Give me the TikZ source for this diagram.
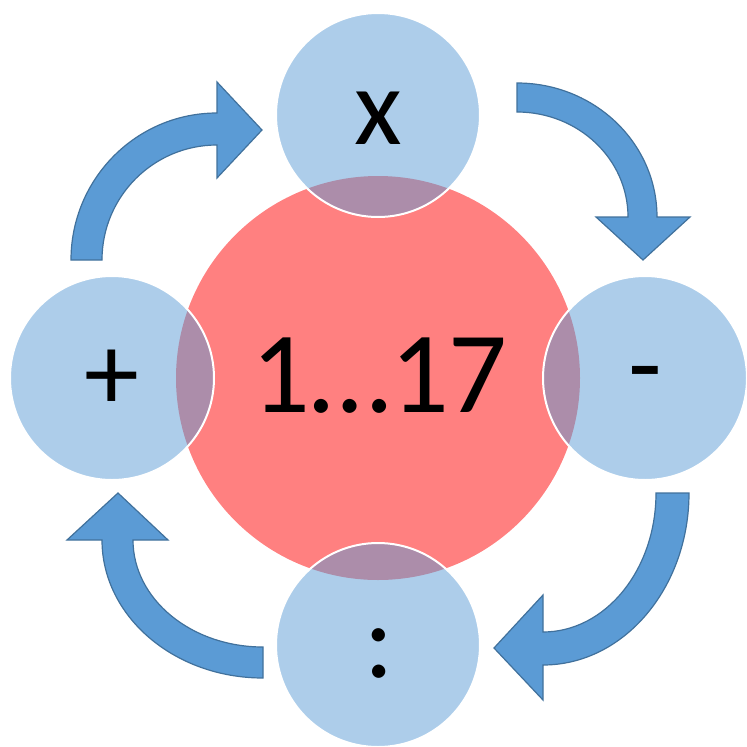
\documentclass[tikz,border=0pt]{standalone}
\usepackage{fontspec}
\setmainfont{Carlito}
\definecolor{redfill}{HTML}{FF8080}
\definecolor{bluefill}{HTML}{5B9BD5}
\definecolor{arrowfill}{HTML}{5B9BD5}
\definecolor{arrowline}{HTML}{41719C}
\begin{document}
\begin{tikzpicture}[x=1pt,y=-1pt,
  bigcirc/.style={circle,fill=redfill,minimum size=404pt,inner sep=0pt},
  smallcirc/.style={circle,fill=bluefill,fill opacity=0.5,draw=white,line width=2pt,minimum size=204pt,inner sep=0pt},
  lbl/.style={inner sep=0pt,font=\fontsize{110}{130}\selectfont},
  biglbl/.style={inner sep=0pt,font=\fontsize{116}{136}\selectfont},
  bentarrow/.style={fill=arrowfill,draw=arrowline,line width=1.2pt,line join=miter}]
\useasboundingbox (0,0) rectangle (747,747);
\node[bigcirc] (centre) at (378,378) {};
\node[smallcirc] (top) at (378,115) {};
\node[smallcirc] (left) at (112,378) {};
\node[smallcirc] (right) at (645,378) {};
\node[smallcirc] (bottom) at (378,645) {};
% top-left arrow
\draw[bentarrow] (71,260) arc[start angle=180,end angle=270,x radius=146,y radius=147]
  -- (217,82) -- (262,130) -- (217,178) -- (217,145)
  arc[start angle=270,end angle=180,radius=115] -- cycle;
% top-right arrow
\draw[bentarrow] (517,83) arc[start angle=270,end angle=360,x radius=140,y radius=134]
  -- (690,217) -- (643,260) -- (596,217) -- (628,217)
  arc[start angle=360,end angle=270,x radius=111,y radius=105] -- cycle;
% bottom-right arrow
\draw[bentarrow] (689,493) arc[start angle=0,end angle=90,x radius=146,y radius=172]
  -- (543,700) -- (494,648) -- (543,595) -- (543,632)
  arc[start angle=90,end angle=0,x radius=113,y radius=139] -- cycle;
% bottom-left arrow
\draw[bentarrow] (263,678) arc[start angle=90,end angle=180,x radius=161,y radius=138]
  -- (67,540) -- (118,493) -- (168,540) -- (133,540)
  arc[start angle=180,end angle=90,x radius=130,y radius=107] -- cycle;
\node[biglbl] (tcentre) at (379.5,375.5) {1…17};
\node[lbl] (ttop) at (378.5,118) {x};
\node[lbl] (tleft) at (111.5,380) {+};
\node[lbl] (tright) at (645.5,383.5) {-};
\node[lbl] (tbottom) at (379.5,653.5) {:};
\end{tikzpicture}
\end{document}
